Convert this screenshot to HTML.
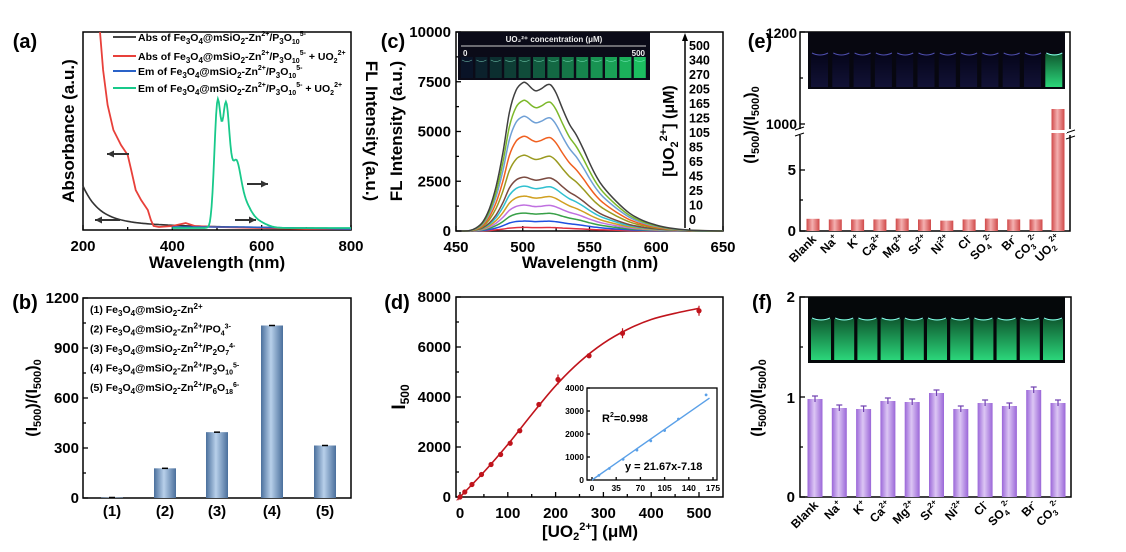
<!DOCTYPE html>
<html><head><meta charset="utf-8">
<style>
html,body{margin:0;padding:0;background:#fff;}
svg{display:block;font-family:"Liberation Sans",Arial,sans-serif;font-weight:bold;}
</style></head>
<body>
<svg id="s" width="1126" height="552" viewBox="0 0 1126 552" xmlns="http://www.w3.org/2000/svg">
<defs>
<linearGradient id="gb" x1="0" x2="1"><stop offset="0" stop-color="#4a6f9c"/><stop offset="0.45" stop-color="#b8d0ea"/><stop offset="1" stop-color="#4a6f9c"/></linearGradient>
<linearGradient id="gr" x1="0" x2="1"><stop offset="0" stop-color="#d04848"/><stop offset="0.45" stop-color="#f4b0b0"/><stop offset="1" stop-color="#d04848"/></linearGradient>
<linearGradient id="gp" x1="0" x2="1"><stop offset="0" stop-color="#9a66d8"/><stop offset="0.45" stop-color="#dcc6f4"/><stop offset="1" stop-color="#9a66d8"/></linearGradient>
<linearGradient id="vg" x1="0" y1="0" x2="0" y2="1"><stop offset="0" stop-color="#0f5a30"/><stop offset="1" stop-color="#2bd67a"/></linearGradient>
<linearGradient id="vb" x1="0" y1="0" x2="0" y2="1"><stop offset="0" stop-color="#05051a"/><stop offset="1" stop-color="#121236"/></linearGradient>
</defs>
<g id="g"></g>
</svg>
<script>
const NS="http://www.w3.org/2000/svg",G=document.getElementById('g');
function el(t,a,txt){const e=document.createElementNS(NS,t);for(const k in a)e.setAttribute(k,a[k]);if(txt!==undefined)e.textContent=txt;G.appendChild(e);return e;}
function T(x,y,s,sz,anc,extra){const a=Object.assign({x:x,y:y,'font-size':sz,'text-anchor':anc||'middle'},extra||{});return el('text',a,s);}
function TH(x,y,html,sz,anc,rot){const e=el('text',{x:x,y:y,'font-size':sz,'text-anchor':anc||'middle'});if(rot)e.setAttribute('transform','rotate(-90 '+x+' '+y+')');e.innerHTML=html;return e;}
function box(x0,y0,x1,y1){el('rect',{x:x0,y:y0,width:x1-x0,height:y1-y0,fill:'none',stroke:'#000','stroke-width':1.5});}
function path(pts,col,w){el('path',{d:'M'+pts.map(p=>p[0].toFixed(1)+','+p[1].toFixed(1)).join('L'),fill:'none',stroke:col,'stroke-width':w||1.6});}
function smooth(pts,col,w){let d='M'+pts[0][0].toFixed(1)+','+pts[0][1].toFixed(1);for(let i=0;i<pts.length-1;i++){const p0=pts[Math.max(0,i-1)],p1=pts[i],p2=pts[i+1],p3=pts[Math.min(pts.length-1,i+2)];const c1=[p1[0]+(p2[0]-p0[0])/6,p1[1]+(p2[1]-p0[1])/6],c2=[p2[0]-(p3[0]-p1[0])/6,p2[1]-(p3[1]-p1[1])/6];d+=`C${c1[0].toFixed(1)},${c1[1].toFixed(1)} ${c2[0].toFixed(1)},${c2[1].toFixed(1)} ${p2[0].toFixed(1)},${p2[1].toFixed(1)}`;}el('path',{d:d,fill:'none',stroke:col,'stroke-width':w||1.6});}
function tick(x,y,dx,dy){el('line',{x1:x,y1:y,x2:x+dx,y2:y+dy,stroke:'#000','stroke-width':1.3});}
function arrow(x1,x2,y){el('line',{x1:x1,y1:y,x2:x2,y2:y,stroke:'#333','stroke-width':2});const d=x2<x1?1:-1;el('path',{d:`M${x2},${y}l${d*7},-3.5l0,7z`,fill:'#333'});}
const g=(x,m,s)=>Math.exp(-((x-m)*(x-m))/(2*s*s));
const shape=w=>g(w,501,7)+0.97*g(w,520,8)+0.42*g(w,542,10)+0.2*g(w,558,16)+0.05*g(w,590,20);
let SM=0;for(let w=450;w<=650;w+=0.5)SM=Math.max(SM,shape(w));
const shapeN=w=>shape(w)/SM;
const SP=[[455,0],[460,0.003],[465,0.02],[470,0.06],[475,0.15],[480,0.3],[485,0.52],[490,0.8],[495,0.95],[500,1],[503,0.995],[507,0.96],[510,0.945],[514,0.96],[518,0.985],[521,0.985],[525,0.93],[530,0.82],[535,0.72],[540,0.65],[545,0.56],[550,0.46],[555,0.37],[560,0.3],[570,0.2],[580,0.12],[590,0.07],[600,0.04],[610,0.02],[625,0.006],[650,0]];

/* ---------- (a) ---------- */
T(25,48,'(a)',20);
box(83,32,351,230);
const ax=w=>83+(w-200)/600*268;
[200,400,600,800].forEach(v=>{tick(ax(v),230,0,-5);T(ax(v),251,v,15);});
[300,500,700].forEach(v=>tick(ax(v),230,0,-3));
T(217,268,'Wavelength (nm)',17);
TH(74,131,'Absorbance (a.u.)',17,'middle',true);
const fx=366,fy=131;el('text',{x:fx,y:fy,'font-size':17,'text-anchor':'middle',transform:`rotate(90 ${fx} ${fy})`},'FL Intensity (a.u.)');
let p=[];for(let w=200;w<=800;w+=5){let y=230-34*Math.exp(-(w-200)/35)-9*Math.exp(-(w-200)/220)-1;p.push([ax(w),y]);}path(p,'#333',1.6);
p=[[ax(238),32],[ax(245),70],[ax(255),105],[ax(268),130],[ax(285),145],[ax(300),155],[ax(308),170],[ax(318),190],[ax(330),200],[ax(345),210],[ax(352),220],[ax(358),226],[ax(370),227],[ax(400),226],[ax(430),223],[ax(450),226],[ax(500),227],[ax(600),228],[ax(700),229],[ax(800),229]];path(p,'#e8403a',1.8);
p=[];for(let w=400;w<=800;w+=10)p.push([ax(w),227+(w>560?(w-560)/120:0)]);path(p,'#2a62c8',1.6);
p=[];for(let w=400;w<=800;w+=2){p.push([ax(w),228-shapeN(w)*129]);}path(p,'#18c98a',1.8);
arrow(129,107,154);arrow(120,95,220);arrow(247,268,184);arrow(235,256,220);
const frag='Fe<tspan font-size="8" dy="3">3</tspan><tspan dy="-3">O</tspan><tspan font-size="8" dy="3">4</tspan><tspan dy="-3">@mSiO</tspan><tspan font-size="8" dy="3">2</tspan><tspan dy="-3">-Zn</tspan><tspan font-size="7" dy="-5">2+</tspan><tspan dy="5">/P</tspan><tspan font-size="8" dy="3">3</tspan><tspan dy="-3">O</tspan><tspan font-size="7" dy="3">10</tspan><tspan font-size="7" dy="-8">5-</tspan>';
const la=[['#444','Abs of '+frag,41],['#e8403a','Abs of '+frag+'<tspan dy="5"> + UO</tspan><tspan font-size="7" dy="3">2</tspan><tspan font-size="7" dy="-8">2+</tspan>',60],['#2a62c8','Em of '+frag,75],['#18c98a','Em of '+frag+'<tspan dy="5"> + UO</tspan><tspan font-size="7" dy="3">2</tspan><tspan font-size="7" dy="-8">2+</tspan>',92]];
la.forEach(l=>{el('line',{x1:113,y1:l[2]-4,x2:136,y2:l[2]-4,stroke:l[0],'stroke-width':2});TH(138,l[2],l[1],10.5,'start');});

/* ---------- (c) ---------- */
T(393,48,'(c)',20);
box(456,32,723,231);
const cx=w=>456+(w-450)/200*267,cy=v=>231-v/10000*199;
[0,2500,5000,7500,10000].forEach(v=>{tick(456,cy(v),5,0);T(451,cy(v)+5,v,15,'end');});
[1250,3750,6250,8750].forEach(v=>tick(456,cy(v),3,0));
[450,500,550,600,650].forEach(v=>{tick(cx(v),231,0,-5);T(cx(v),252,v,15);});
[475,525,575,625].forEach(v=>tick(cx(v),231,0,-3));
T(590,268,'Wavelength (nm)',17);
TH(402,131,'FL Intensity (a.u.)',17,'middle',true);
const peaks=[[7450,'#404040'],[6550,'#7cb82a'],[5750,'#6fa0d6'],[4750,'#f06020'],[3800,'#9a9a20'],[2700,'#7a4a40'],[2250,'#30c0d0'],[1750,'#d0a020'],[1300,'#c070e0'],[900,'#38a048'],[500,'#2050e0'],[180,'#e03040']];
peaks.slice().reverse().forEach(pk=>{smooth(SP.map(s=>[cx(s[0]),cy(s[1]*pk[0])]),pk[1],1.5);});
el('rect',{x:458,y:32,width:192,height:48,fill:'#0b0b18'});
T(554,42,'UO\u2082\u00B2\u207A concentration (μM)',8,'middle',{fill:'#eee'});
el('line',{x1:461,y1:46,x2:646,y2:46,stroke:'#ccc','stroke-width':1});
T(463,56,'0',8,'start',{fill:'#eee'});T(645,56,'500',8,'end',{fill:'#eee'});
for(let i=0;i<13;i++){const xx=461+i*14.4,a=i/12;el('rect',{x:xx,y:57,width:12,height:21,fill:`rgb(${Math.round(10+20*a)},${Math.round(20+180*a)},${Math.round(40+60*a)})`,opacity:0.95});el('path',{d:`M${xx+1},60q5,3 10,0`,stroke:'#9fd',fill:'none','stroke-width':0.7,opacity:0.6});}
el('line',{x1:685,y1:228,x2:685,y2:40,stroke:'#000','stroke-width':1.5});el('path',{d:'M685,33l-3,8l6,0z',fill:'#000'});
['500','340','270','205','165','125','105','85','65','45','25','10','0'].forEach((s,i)=>T(689,50+i*14.5,s,12.5,'start'));
TH(674,131,'[UO<tspan font-size="11" dy="4">2</tspan><tspan font-size="11" dy="-11">2+</tspan><tspan dy="7">] (μM)</tspan>',16,'middle',true);

/* ---------- (e) ---------- */
T(760,48,'(e)',20);
box(800,32,1070,231);
const ey=v=>231-v*12.2;
T(797,38,'1200',14,'end');T(797,129,'1000',14,'end');T(796,175,'5',15,'end');T(796,236,'0',15,'end');
tick(800,32,5,0);tick(800,124,5,0);tick(800,170,5,0);tick(800,231,5,0);tick(800,78,3,0);tick(800,200,3,0);
el('rect',{x:795,y:129,width:10,height:6,fill:'#fff'});
el('path',{d:'M795,130l9,-3M795,136l9,-3',stroke:'#000','stroke-width':1});
el('rect',{x:1065,y:129,width:10,height:6,fill:'#fff'});
el('path',{d:'M1066,133l9,-3M1066,139l9,-3',stroke:'#000','stroke-width':1});
el('rect',{x:808,y:32,width:257,height:57,fill:'#070710'});
for(let i=0;i<12;i++){const xx=810+i*21.3;const gr=i==11;el('rect',{x:xx+1,y:54,width:17,height:33,fill:gr?'url(#vg)':'url(#vb)'});el('path',{d:`M${xx+2},53q8,4 16,0`,stroke:gr?'#8fe':'#5050b0',fill:'none','stroke-width':1});}
const ev=[1,0.95,0.95,0.95,1.02,0.95,0.85,0.95,1.02,0.95,0.95];
ev.forEach((v,i)=>{const xc=813+i*22.3;el('rect',{x:xc-6.5,y:ey(v),width:13,height:231-ey(v),fill:'url(#gr)'});});
el('rect',{x:1051.5,y:109,width:13,height:122,fill:'url(#gr)'});
el('rect',{x:1049,y:130,width:18,height:3,fill:'#fff'});
const el1=['Blank','Na<tspan font-size="8" dy="-5">+</tspan>','K<tspan font-size="8" dy="-5">+</tspan>','Ca<tspan font-size="8" dy="-5">2+</tspan>','Mg<tspan font-size="8" dy="-5">2+</tspan>','Sr<tspan font-size="8" dy="-5">2+</tspan>','Ni<tspan font-size="8" dy="-5">2+</tspan>','Cl<tspan font-size="8" dy="-5">-</tspan>','SO<tspan font-size="8" dy="3">4</tspan><tspan font-size="8" dy="-9">2-</tspan>','Br<tspan font-size="8" dy="-5">-</tspan>','CO<tspan font-size="8" dy="3">3</tspan><tspan font-size="8" dy="-9">2-</tspan>','UO<tspan font-size="8" dy="3">2</tspan><tspan font-size="8" dy="-9">2+</tspan>'];
el1.forEach((s,i)=>{const xc=817+i*22.3,yy=240;const e=el('text',{x:xc,y:yy,'font-size':12,'text-anchor':'end',transform:`rotate(-45 ${xc} ${yy})`});e.innerHTML=s;});
TH(755,125,'(I<tspan font-size="11" dy="4">500</tspan><tspan dy="-4">)/(I</tspan><tspan font-size="11" dy="4">500</tspan><tspan dy="-4">)</tspan><tspan font-size="11" dy="4">0</tspan>',16,'middle',true);

/* ---------- (b) ---------- */
T(25,309,'(b)',20);
box(83,298,351,498);
const by=v=>498-v/1200*200;
[0,300,600,900,1200].forEach(v=>{tick(83,by(v),5,0);T(79,by(v)+5,v,15,'end');});
[150,450,750,1050].forEach(v=>tick(83,by(v),3,0));
const bv=[3,178,395,1035,315],bx=[112,165,217,272,325];
bv.forEach((v,i)=>{el('rect',{x:bx[i]-11,y:by(v),width:22,height:498-by(v),fill:'url(#gb)'});el('line',{x1:bx[i]-3,y1:by(v),x2:bx[i]+3,y2:by(v),stroke:'#000','stroke-width':1.5});T(bx[i],516,'('+(i+1)+')',15);});
TH(37,398,'(I<tspan font-size="11" dy="4">500</tspan><tspan dy="-4">)/(I</tspan><tspan font-size="11" dy="4">500</tspan><tspan dy="-4">)</tspan><tspan font-size="11" dy="4">0</tspan>',16,'middle',true);
const base='Fe<tspan font-size="8" dy="3">3</tspan><tspan dy="-3">O</tspan><tspan font-size="8" dy="3">4</tspan><tspan dy="-3">@mSiO</tspan><tspan font-size="8" dy="3">2</tspan><tspan dy="-3">-Zn</tspan><tspan font-size="8" dy="-4">2+</tspan>';
const lb=['(1) '+base,'(2) '+base+'<tspan dy="4">/PO</tspan><tspan font-size="7" dy="3">4</tspan><tspan font-size="7" dy="-7">3-</tspan>','(3) '+base+'<tspan dy="4">/P</tspan><tspan font-size="8" dy="3">2</tspan><tspan dy="-3">O</tspan><tspan font-size="7" dy="3">7</tspan><tspan font-size="7" dy="-7">4-</tspan>','(4) '+base+'<tspan dy="4">/P</tspan><tspan font-size="8" dy="3">3</tspan><tspan dy="-3">O</tspan><tspan font-size="7" dy="3">10</tspan><tspan font-size="7" dy="-7">5-</tspan>','(5) '+base+'<tspan dy="4">/P</tspan><tspan font-size="8" dy="3">6</tspan><tspan dy="-3">O</tspan><tspan font-size="7" dy="3">18</tspan><tspan font-size="7" dy="-7">6-</tspan>'];
lb.forEach((s,i)=>TH(90,313+i*19.5,s,10.5,'start'));

/* ---------- (d) ---------- */
T(397,309,'(d)',20);
box(456,297,723,497);
const dx=v=>460+v*0.478,dy=v=>497-v/8000*200;
[0,2000,4000,6000,8000].forEach(v=>{tick(456,dy(v),5,0);T(451,dy(v)+5,v,15,'end');});
[1000,3000,5000,7000].forEach(v=>tick(456,dy(v),3,0));
[0,100,200,300,400,500].forEach(v=>{tick(dx(v),497,0,-5);T(dx(v),518,v,15);});
[50,150,250,350,450].forEach(v=>tick(dx(v),497,0,-3));
TH(590,537,'[UO<tspan font-size="11" dy="3">2</tspan><tspan font-size="11" dy="-10">2+</tspan><tspan dy="7">] (μM)</tspan>',17);
TH(405,397,'I<tspan font-size="12" dy="4">500</tspan>',19,'middle',true);
const dp=[[0,0],[10,200],[25,500],[45,900],[65,1300],[85,1700],[105,2150],[125,2650],[165,3700],[205,4700],[270,5650],[340,6550],[500,7450]];
const fitp=[[-5,-120],[0,0],[50,1000],[100,2100],[150,3300],[200,4450],[250,5400],[300,6150],[350,6700],[400,7100],[450,7350],[500,7550]].map(d=>[dx(d[0]),dy(d[1])]);
smooth(fitp,'#c0141c',1.6);
dp.forEach(d=>{el('circle',{cx:dx(d[0]),cy:dy(d[1]),r:2.6,fill:'#c0141c'});});
[[205,4700,200],[340,6550,200],[500,7450,200]].forEach(d=>{el('line',{x1:dx(d[0]),y1:dy(d[1]+d[2]),x2:dx(d[0]),y2:dy(d[1]-d[2]),stroke:'#c0141c','stroke-width':1.2});});
el('rect',{x:587,y:388,width:130,height:92,fill:'#fff',stroke:'#000','stroke-width':1.3});
const ix=v=>592+v/175*121,iy=v=>480-v/4000*92;
[0,1000,2000,3000,4000].forEach(v=>{tick(587,iy(v),3,0);T(584,iy(v)+3,v,8.5,'end');});
[0,35,70,105,140,175].forEach(v=>{tick(ix(v),480,0,-3);T(ix(v),491,v,8.5);});
path([[ix(0),iy(0)],[ix(170),iy(3560)]],'#5aa0e8',1.4);
[[10,200],[25,500],[45,900],[65,1300],[85,1700],[105,2150],[125,2650],[165,3700]].forEach(d=>el('circle',{cx:ix(d[0]),cy:iy(d[1]),r:1.4,fill:'#5aa0e8'}));
TH(602,422,'R<tspan font-size="7" dy="-5">2</tspan><tspan dy="5">=0.998</tspan>',11,'start');
T(625,470,'y = 21.67x-7.18',11,'start');

/* ---------- (f) ---------- */
T(762,309,'(f)',20);
box(800,297,1071,497);
const fy2=v=>497-v*100;
T(795,302,'2',15,'end');T(795,403,'1',15,'end');T(795,502,'0',15,'end');
[0,1,2].forEach(v=>tick(800,fy2(v),5,0));[0.5,1.5].forEach(v=>tick(800,fy2(v),3,0));
el('rect',{x:808,y:297,width:257,height:66,fill:'#05080a'});
for(let i=0;i<11;i++){const xx=810+i*23.2;el('rect',{x:xx+1,y:319,width:20,height:41,fill:'url(#vg)'});el('path',{d:`M${xx+2},318q9,4 18,0`,stroke:'#8fe',fill:'none','stroke-width':1});}
const fv=[0.98,0.89,0.88,0.96,0.95,1.04,0.88,0.94,0.91,1.07,0.94];
fv.forEach((v,i)=>{const xc=815+i*24.3;el('rect',{x:xc-7.5,y:fy2(v),width:15,height:497-fy2(v),fill:'url(#gp)'});el('line',{x1:xc,y1:fy2(v+0.03),x2:xc,y2:fy2(v-0.03),stroke:'#7040b0','stroke-width':1.2});el('line',{x1:xc-3,y1:fy2(v+0.03),x2:xc+3,y2:fy2(v+0.03),stroke:'#7040b0','stroke-width':1.2});});
el1.slice(0,11).forEach((s,i)=>{const xc=819+i*24.3,yy=506;const e=el('text',{x:xc,y:yy,'font-size':12,'text-anchor':'end',transform:`rotate(-45 ${xc} ${yy})`});e.innerHTML=s;});
TH(762,398,'(I<tspan font-size="11" dy="4">500</tspan><tspan dy="-4">)/(I</tspan><tspan font-size="11" dy="4">500</tspan><tspan dy="-4">)</tspan><tspan font-size="11" dy="4">0</tspan>',16,'middle',true);
</script>
</body></html>
